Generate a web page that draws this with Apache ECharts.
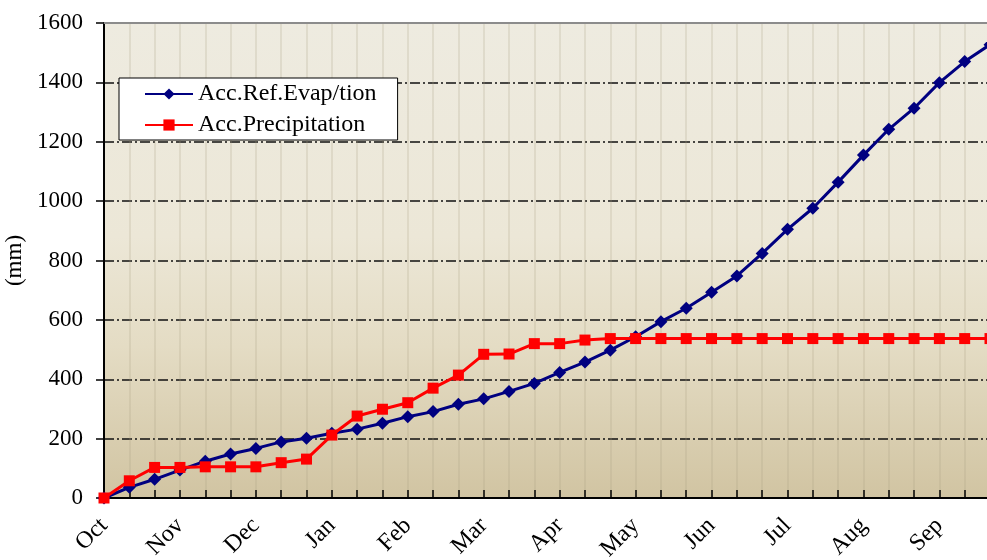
<!DOCTYPE html>
<html>
<head>
<meta charset="utf-8">
<script src="https://cdn.jsdelivr.net/npm/echarts@6/dist/echarts.min.js"></script>
<style>
html,body{margin:0;padding:0;background:#fff;}
#chart{width:987px;height:560px;}
</style>
</head>
<body>
<div id="chart"></div>
<script>
var months = ['Oct','Nov','Dec','Jan','Feb','Mar','Apr','May','Jun','Jul','Aug','Sep'];
var dekads = ['I','II','III'];
var categories = [];
months.forEach(function(m){ dekads.forEach(function(d){ categories.push(m + ' ' + d); }); });

var seriesNames = ['Acc.Ref.Evap/tion', 'Acc.Precipitation'];
var evapValues = [0,36,63,94,124,148,167,189,201,218,232,252,274,291,316,334,359,386,423,458,498,543,594,639,693,748,824,905,976,1064,1155,1242,1313,1399,1470,1527];
var precipValues = [0,58,103,103,105,105,105,119,131,212,276,299,321,370,414,484,485,520,520,532,537,537,537,537,537,537,537,537,537,537,537,537,537,537,537,537];
var yTicks = [0,200,400,600,800,1000,1200,1400,1600];
var yName = '(mm)';

var FONT = '"Liberation Serif", "DejaVu Serif", serif';
var chart = echarts.init(document.getElementById('chart'), null, {renderer:'canvas'});
chart.setOption({
  animation: false,
  backgroundColor: '#ffffff',
  grid: {
    left: 104, right: -3, top: 23, bottom: 62,
    outerBoundsMode: 'none',
    containLabel: false,
    show: true, borderWidth: 0,
    backgroundColor: {
      type: 'linear', x: 0, y: 0, x2: 0, y2: 1,
      colorStops: [
        {offset: 0, color: '#EEEBE0'},
        {offset: 0.45, color: '#ECE7D7'},
        {offset: 0.68, color: '#E4DCC4'},
        {offset: 1, color: '#D1C4A2'}
      ]
    }
  },
  legend: {
    left: 119, top: 78,
    orient: 'vertical',
    backgroundColor: '#ffffff',
    borderColor: '#000000', borderWidth: 1,
    padding: [4, 21, 3, 25],
    itemWidth: 48, itemHeight: 14, itemGap: 7,
    textStyle: {fontFamily: FONT, fontSize: 24, color: '#000'},
    data: seriesNames
  },
  xAxis: [{
    type: 'category',
    data: categories,
    boundaryGap: false,
    axisLine: {lineStyle: {color: '#000', width: 2}},
    axisTick: {show: true, inside: true, length: 8, interval: 0, lineStyle: {color: '#000', width: 1.5}},
    axisLabel: {
      interval: 2, rotate: 45, margin: 24,
      fontFamily: FONT, fontSize: 24, color: '#000',
      formatter: function(v){ return v.split(' ')[0]; }
    },
    splitLine: {show: true, interval: 0, lineStyle: {color: 'rgba(170,160,130,0.28)', width: 1.5}}
  }, {
    type: 'category',
    data: categories,
    boundaryGap: false,
    position: 'top',
    axisLine: {lineStyle: {color: '#8c8c8c', width: 2}},
    axisTick: {show: false},
    axisLabel: {show: false},
    splitLine: {show: false}
  }],
  yAxis: {
    type: 'value',
    min: yTicks[0], max: yTicks[yTicks.length-1], interval: 200,
    name: yName, nameLocation: 'middle', nameGap: 72, nameRotate: 90,
    nameTextStyle: {fontFamily: FONT, fontSize: 23, color: '#000'},
    axisLine: {show: true, lineStyle: {color: '#000', width: 2}},
    axisTick: {show: true, inside: false, length: 8, lineStyle: {color: '#000', width: 1.5}},
    axisLabel: {margin: 21, fontFamily: FONT, fontSize: 23, color: '#000',
      formatter: function(v){ return String(v); }},
    splitLine: {show: true, lineStyle: {color: '#111', width: 1.5, type: [10, 3, 2, 3]}}
  },
  series: [{
    name: seriesNames[0],
    type: 'line',
    data: evapValues,
    xAxisIndex: 0,
    color: '#000080',
    lineStyle: {color: '#000080', width: 3},
    itemStyle: {color: '#000080'},
    symbol: 'diamond', symbolSize: 13, showSymbol: true,
    z: 3
  }, {
    name: seriesNames[1],
    type: 'line',
    data: precipValues,
    xAxisIndex: 0,
    color: '#FF0000',
    lineStyle: {color: '#FF0000', width: 3},
    itemStyle: {color: '#FF0000'},
    symbol: 'rect', symbolSize: 11, showSymbol: true,
    z: 4
  }]
});
</script>
</body>
</html>
